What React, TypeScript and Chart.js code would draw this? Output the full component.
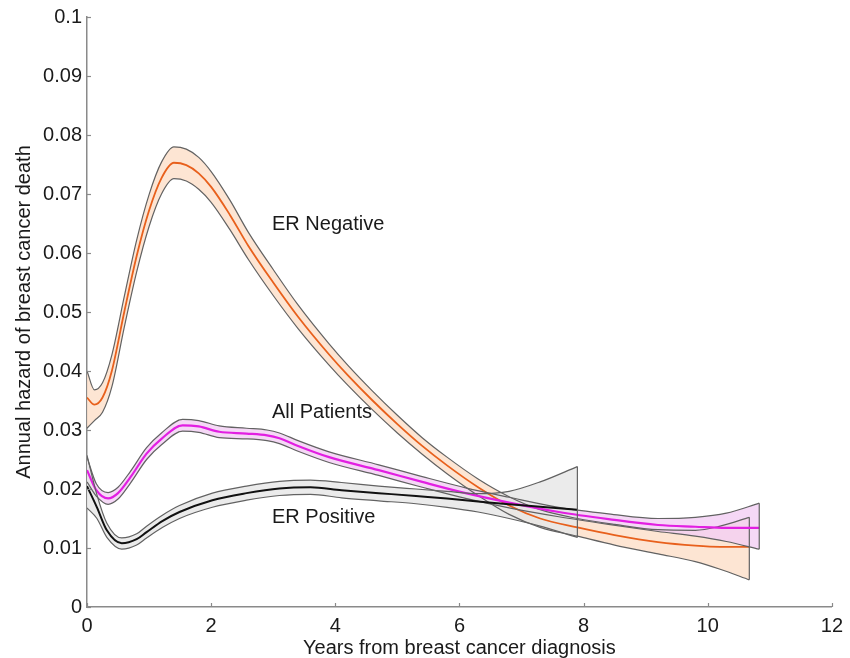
import React, { useEffect, useRef } from "react";
import { Chart, registerables } from "chart.js";

Chart.register(...registerables);

// ER Negative
const negX = [0, 0.12, 0.25, 0.4, 0.6, 0.8, 1.0, 1.2, 1.4, 1.6, 1.8, 2.0, 2.3, 2.6, 3.0, 3.4, 3.9, 4.2, 4.6, 5.0, 5.4, 5.8, 6.3, 6.8, 7.3, 7.9, 8.5, 9.2, 9.8, 10.2, 10.67];
const negMid = [0.0355, 0.0343, 0.0355, 0.040, 0.050, 0.0595, 0.0672, 0.0727, 0.0753, 0.0749, 0.0735, 0.0712, 0.0665, 0.0612, 0.055, 0.0492, 0.0428, 0.0393, 0.035, 0.031, 0.0273, 0.024, 0.0203, 0.0172, 0.015, 0.0135, 0.0122, 0.011, 0.0104, 0.0102, 0.0102];
const negUp = [0.04, 0.0368, 0.038, 0.0427, 0.0526, 0.0622, 0.0699, 0.0754, 0.078, 0.0776, 0.0762, 0.0738, 0.069, 0.0635, 0.0572, 0.0512, 0.0446, 0.041, 0.0366, 0.0325, 0.0287, 0.0254, 0.0217, 0.0187, 0.0165, 0.015, 0.014, 0.0131, 0.013, 0.0137, 0.0152];
const negLo = [0.0303, 0.0316, 0.033, 0.0373, 0.0474, 0.0568, 0.0645, 0.07, 0.0726, 0.0722, 0.0708, 0.0686, 0.064, 0.0589, 0.0528, 0.0472, 0.041, 0.0376, 0.0334, 0.0295, 0.0259, 0.0226, 0.0189, 0.0157, 0.0135, 0.012, 0.0105, 0.009, 0.0077, 0.0064, 0.0046];

// All Patients
const allX = [0, 0.15, 0.34, 0.5, 0.7, 0.96, 1.2, 1.54, 1.8, 2.13, 2.57, 2.9, 3.1, 3.4, 3.9, 4.7, 5.4, 6.1, 6.8, 7.6, 8.4, 9.2, 9.8, 10.3, 10.83];
const allMid = [0.0232, 0.0198, 0.0184, 0.0193, 0.022, 0.026, 0.0285, 0.0308, 0.0306, 0.0297, 0.0294, 0.0291, 0.0286, 0.0273, 0.0254, 0.0232, 0.0212, 0.0193, 0.0177, 0.0161, 0.0149, 0.0139, 0.0136, 0.0134, 0.0134];
const allUp = [0.0254, 0.0209, 0.0194, 0.0203, 0.023, 0.027, 0.0295, 0.0318, 0.0316, 0.0307, 0.0303, 0.03, 0.0295, 0.0282, 0.0263, 0.0241, 0.0221, 0.0202, 0.0186, 0.0169, 0.0158, 0.015, 0.0152, 0.0159, 0.0176];
const allLo = [0.0212, 0.0188, 0.0174, 0.0183, 0.021, 0.025, 0.0275, 0.0298, 0.0296, 0.0287, 0.0285, 0.0282, 0.0277, 0.0264, 0.0245, 0.0223, 0.0203, 0.0184, 0.0168, 0.0153, 0.014, 0.0128, 0.012, 0.0111, 0.0098];

// ER Positive
const posX = [0, 0.16, 0.32, 0.56, 0.8, 0.96, 1.22, 1.49, 2.02, 2.57, 3.1, 3.6, 4.1, 4.7, 5.3, 5.8, 6.3, 6.8, 7.3, 7.9];
const posMid = [0.0205, 0.0169, 0.013, 0.0108, 0.0115, 0.0127, 0.0146, 0.0161, 0.0181, 0.0193, 0.0201, 0.0203, 0.0198, 0.0193, 0.0188, 0.0184, 0.0179, 0.0174, 0.017, 0.0165];
const posUp = [0.0257, 0.019, 0.0142, 0.0117, 0.0124, 0.0137, 0.0156, 0.0172, 0.0193, 0.0205, 0.0213, 0.0215, 0.0211, 0.0205, 0.02, 0.0196, 0.0192, 0.0196, 0.0212, 0.0238];
const posLo = [0.0168, 0.015, 0.0118, 0.0098, 0.0105, 0.0117, 0.0135, 0.015, 0.0169, 0.0181, 0.0189, 0.0191, 0.0185, 0.018, 0.0175, 0.0169, 0.0161, 0.015, 0.0137, 0.0118];

// Curve labels
const labelTexts = ["ER Negative", "All Patients", "ER Positive"];
const labelX = [2.98, 2.98, 2.98];
const labelY = [0.0648, 0.033, 0.0151];

// Axes
const yTickLabels = ["0", "0.01", "0.02", "0.03", "0.04", "0.05", "0.06", "0.07", "0.08", "0.09", "0.1"];
const xTickLabels = ["0", "2", "4", "6", "8", "10", "12"];

const FONT = "'Liberation Sans', Arial, sans-serif";
const FS = 20;
const AXIS = "#8a8a8a";
const EDGE = "#626262";

const pts = (xs: number[], ys: number[]) => xs.map((x, i) => ({ x, y: ys[i] }));

function bandSets(xs: number[], up: number[], lo: number[], mid: number[], fill: string, lineColor: string, lineWidth: number) {
  const last = xs.length - 1;
  return [
    {
      data: pts(xs, up),
      borderColor: EDGE,
      borderWidth: 1.2,
      backgroundColor: fill,
      fill: "+1",
      pointRadius: 0,
      cubicInterpolationMode: "monotone",
    },
    {
      data: pts(xs, lo),
      borderColor: EDGE,
      borderWidth: 1.2,
      fill: false,
      pointRadius: 0,
      cubicInterpolationMode: "monotone",
    },
    {
      data: [
        { x: xs[last], y: up[last] },
        { x: xs[last], y: lo[last] },
      ],
      borderColor: EDGE,
      borderWidth: 1.2,
      fill: false,
      pointRadius: 0,
    },
    {
      data: pts(xs, mid),
      borderColor: lineColor,
      borderWidth: lineWidth,
      fill: false,
      pointRadius: 0,
      cubicInterpolationMode: "monotone",
    },
  ];
}

const inwardTicks = {
  id: "inwardTicks",
  afterDraw(chart: any) {
    const { ctx, chartArea } = chart;
    const xs = chart.scales.x;
    const ys = chart.scales.y;
    ctx.save();
    ctx.strokeStyle = AXIS;
    ctx.lineWidth = 1.2;
    ys.ticks.forEach((t: any) => {
      const py = Math.round(ys.getPixelForValue(t.value)) + 0.5;
      ctx.beginPath();
      ctx.moveTo(chartArea.left, py);
      ctx.lineTo(chartArea.left + 4, py);
      ctx.stroke();
    });
    xs.ticks.forEach((t: any) => {
      const px = Math.round(xs.getPixelForValue(t.value)) + 0.5;
      ctx.beginPath();
      ctx.moveTo(px, chartArea.bottom);
      ctx.lineTo(px, chartArea.bottom - 4);
      ctx.stroke();
    });
    ctx.fillStyle = "#1a1a1a";
    ctx.font = `${FS}px ${FONT}`;
    ctx.textAlign = "left";
    ctx.textBaseline = "middle";
    labelTexts.forEach((txt, i) => {
      ctx.fillText(txt, xs.getPixelForValue(labelX[i]), ys.getPixelForValue(labelY[i]));
    });
    ctx.restore();
  },
};

export default function App() {
  const ref = useRef<HTMLCanvasElement | null>(null);
  useEffect(() => {
    if (!ref.current) return;
    const datasets: any[] = [
      ...bandSets(posX, posUp, posLo, posMid, "rgba(232,232,232,0.85)", "#111111", 2),
      ...bandSets(allX, allUp, allLo, allMid, "rgba(242,206,244,0.8)", "#e21fe2", 2.2),
      ...bandSets(negX, negUp, negLo, negMid, "rgba(252,222,200,0.8)", "#e8601c", 1.8),
    ];
    const chart = new Chart(ref.current, {
      type: "line",
      data: { datasets },
      plugins: [inwardTicks],
      options: {
        animation: false,
        responsive: false,
        layout: { padding: { top: 16, right: 15, left: 0, bottom: 0 } },
        plugins: {
          legend: { display: false },
          tooltip: { enabled: false },
          filler: { drawTime: "beforeDatasetsDraw" },
        },
        scales: {
          x: {
            type: "linear",
            min: 0,
            max: 12,
            afterFit: (s: any) => {
              s.height = 51;
            },
            ticks: {
              stepSize: 2,
              padding: 7,
              color: "#1a1a1a",
              font: { family: FONT, size: FS },
              callback: (_v: any, i: number) => xTickLabels[i],
              maxRotation: 0,
            },
            grid: { drawOnChartArea: false, drawTicks: false, color: AXIS },
            border: { display: true, color: AXIS, width: 1.5 },
            title: {
              display: true,
              text: "Years from breast cancer diagnosis",
              color: "#1a1a1a",
              font: { family: FONT, size: FS },
              padding: { top: 0, bottom: -2 },
            },
          },
          y: {
            type: "linear",
            min: 0,
            max: 0.1,
            afterFit: (s: any) => {
              s.width = 87;
            },
            ticks: {
              stepSize: 0.01,
              padding: 5,
              color: "#1a1a1a",
              font: { family: FONT, size: FS },
              callback: (_v: any, i: number) => yTickLabels[i],
            },
            grid: { drawOnChartArea: false, drawTicks: false, color: AXIS },
            border: { display: true, color: AXIS, width: 1.5 },
            title: {
              display: true,
              text: "Annual hazard of breast cancer death",
              color: "#1a1a1a",
              font: { family: FONT, size: FS },
              padding: { top: 12, bottom: 0 },
            },
          },
        },
      } as any,
    });
    return () => chart.destroy();
  }, []);
  return (
    <div style={{ position: "fixed", left: 0, top: 0, width: 850, height: 658, background: "#fff" }}>
      <canvas ref={ref} width={850} height={658} style={{ display: "block" }} />
    </div>
  );
}
